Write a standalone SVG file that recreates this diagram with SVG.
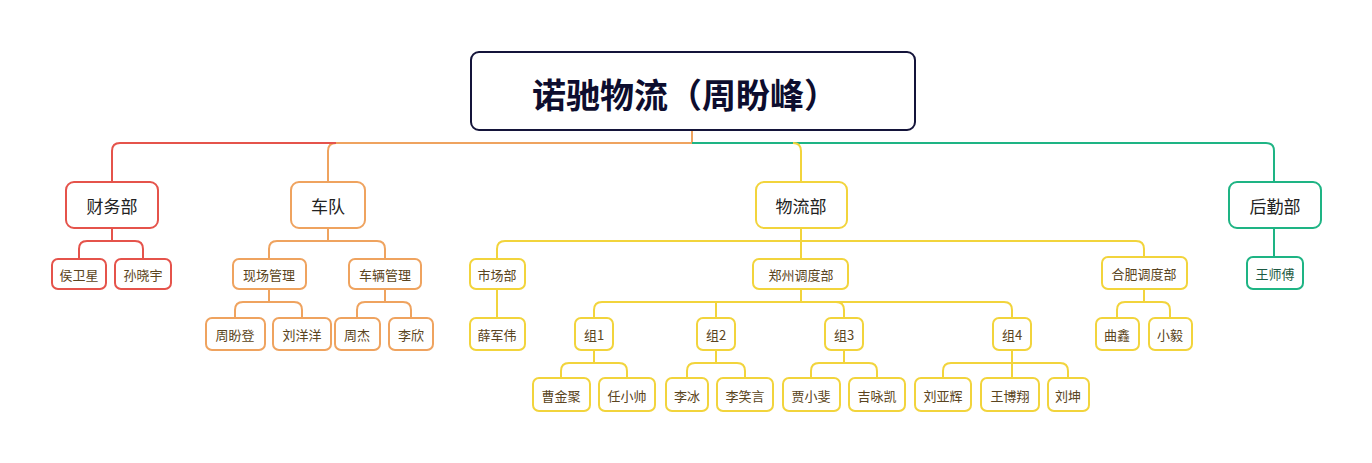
<svg xmlns="http://www.w3.org/2000/svg" width="1372" height="463" viewBox="0 0 1372 463">
<style>
text{font-family:"Noto Sans CJK SC","Noto Sans",sans-serif;text-anchor:middle;dominant-baseline:central}
rect{fill:#fff;stroke-width:2}
path{fill:none;stroke-width:2}
.r{stroke:#e5534b}.o{stroke:#efa35f}.y{stroke:#f2d43c}.g{stroke:#1eb484}
.l1{font-size:17px;fill:#222}
.l2{font-size:13px;fill:#5a4420}
.tg{fill:#1b5a43}
</style>
<rect width="1372" height="463" fill="#fff" stroke="none"/>
<g id="connectors">
<path class="o" d="M692 130V143H336Q328 143 328 151V182"/>
<path class="r" d="M336 143H120Q112 143 112 151V182"/>
<path class="g" d="M692 143H1266Q1274 143 1274 151V182M1274 228V259"/>
<path class="y" d="M793 143Q801 143 801 151V182"/>
<path class="r" d="M112 228V241M87 241H135M79 249Q79 241 87 241M135 241Q143 241 143 249V259M79 249V259"/>
<path class="o" d="M328 228V241H377Q385 241 385 249V259M328 241H277Q269 241 269 249V259"/>
<path class="o" d="M269 289V302H294Q302 302 302 310V318M269 302H243Q235 302 235 310V318"/>
<path class="o" d="M385 289V302H403Q411 302 411 310V318M385 302H365Q357 302 357 310V318"/>
<path class="y" d="M801 228V259M801 241H1136Q1144 241 1144 249V257M801 241H505Q497 241 497 249V259M497 289V318"/>
<path class="y" d="M801 289V302H1004Q1012 302 1012 310V318M801 302H602Q594 302 594 310V318M716 302V318M836 302Q844 302 844 310V318"/>
<path class="y" d="M1144 289V302H1162Q1170 302 1170 310V318M1144 302H1125Q1117 302 1117 310V318"/>
<path class="y" d="M594 350V363H619Q627 363 627 371V378M594 363H569Q561 363 561 371V378"/>
<path class="y" d="M716 350V363H737Q745 363 745 371V378M716 363H695Q687 363 687 371V378"/>
<path class="y" d="M844 350V363H869Q877 363 877 371V378M844 363H819Q811 363 811 371V378"/>
<path class="y" d="M1012 350V378M1012 363H1060Q1068 363 1068 371V378M1012 363H951Q943 363 943 371V378"/>
</g>
<g id="root"><rect x="471" y="52" width="444" height="78" rx="8" stroke="#14143a"/><text x="685" y="93" font-size="34" font-weight="bold" fill="#0d0d2e">诺驰物流（周盼峰）</text></g>
<g id="n-caiwu"><rect class="r" x="66" y="182" width="92" height="46" rx="8"/><text class="l1" x="112" y="205">财务部</text></g>
<g id="n-chedui"><rect class="o" x="291" y="182" width="74" height="46" rx="8"/><text class="l1" x="328" y="205">车队</text></g>
<g id="n-wuliu"><rect class="y" x="756" y="182" width="91" height="46" rx="8"/><text class="l1" x="801" y="205">物流部</text></g>
<g id="n-houqin"><rect class="g" x="1229" y="182" width="92" height="46" rx="8"/><text class="l1" x="1275" y="205">后勤部</text></g>
<g id="n-hwx"><rect class="r" x="52" y="259" width="54" height="30" rx="6"/><text class="l2" x="79" y="274">侯卫星</text></g>
<g id="n-sxy"><rect class="r" x="115" y="259" width="56" height="30" rx="6"/><text class="l2" x="143" y="274">孙晓宇</text></g>
<g id="n-xcgl"><rect class="o" x="233" y="259" width="73" height="30" rx="6"/><text class="l2" x="269" y="274">现场管理</text></g>
<g id="n-clgl"><rect class="o" x="349" y="259" width="72" height="30" rx="6"/><text class="l2" x="385" y="274">车辆管理</text></g>
<g id="n-zpd"><rect class="o" x="206" y="318" width="59" height="32" rx="6"/><text class="l2" x="235" y="334">周盼登</text></g>
<g id="n-lyy"><rect class="o" x="273" y="318" width="58" height="32" rx="6"/><text class="l2" x="302" y="334">刘洋洋</text></g>
<g id="n-zj"><rect class="o" x="335" y="318" width="45" height="32" rx="6"/><text class="l2" x="357" y="334">周杰</text></g>
<g id="n-lx"><rect class="o" x="389" y="318" width="44" height="32" rx="6"/><text class="l2" x="411" y="334">李欣</text></g>
<g id="n-scb"><rect class="y" x="470" y="259" width="55" height="30" rx="6"/><text class="l2" x="497" y="274">市场部</text></g>
<g id="n-zz"><rect class="y" x="753" y="259" width="95" height="30" rx="6"/><text class="l2" x="801" y="274">郑州调度部</text></g>
<g id="n-hf"><rect class="y" x="1102" y="257" width="85" height="32" rx="6"/><text class="l2" x="1144" y="273">合肥调度部</text></g>
<g id="n-wtg"><rect class="g" x="1247" y="257" width="56" height="32" rx="6"/><text class="l2 tg" x="1275" y="273">王师傅</text></g>
<g id="n-xjw"><rect class="y" x="470" y="318" width="55" height="32" rx="6"/><text class="l2" x="497" y="334">薛军伟</text></g>
<g id="n-z1"><rect class="y" x="575" y="318" width="38" height="32" rx="6"/><text class="l2" x="594" y="334">组1</text></g>
<g id="n-z2"><rect class="y" x="697" y="318" width="38" height="32" rx="6"/><text class="l2" x="716" y="334">组2</text></g>
<g id="n-z3"><rect class="y" x="825" y="318" width="38" height="32" rx="6"/><text class="l2" x="844" y="334">组3</text></g>
<g id="n-z4"><rect class="y" x="993" y="318" width="38" height="32" rx="6"/><text class="l2" x="1012" y="334">组4</text></g>
<g id="n-qx"><rect class="y" x="1096" y="318" width="43" height="32" rx="6"/><text class="l2" x="1117" y="334">曲鑫</text></g>
<g id="n-xy"><rect class="y" x="1149" y="318" width="43" height="32" rx="6"/><text class="l2" x="1170" y="334">小毅</text></g>
<g id="n-cjj"><rect class="y" x="533" y="378" width="57" height="33" rx="6"/><text class="l2" x="561" y="395">曹金聚</text></g>
<g id="n-rxs"><rect class="y" x="599" y="378" width="56" height="33" rx="6"/><text class="l2" x="627" y="395">任小帅</text></g>
<g id="n-lb"><rect class="y" x="666" y="378" width="42" height="33" rx="6"/><text class="l2" x="687" y="395">李冰</text></g>
<g id="n-lxy"><rect class="y" x="717" y="378" width="56" height="33" rx="6"/><text class="l2" x="745" y="395">李笑言</text></g>
<g id="n-jxf"><rect class="y" x="783" y="378" width="57" height="33" rx="6"/><text class="l2" x="811" y="395">贾小斐</text></g>
<g id="n-jyk"><rect class="y" x="849" y="378" width="56" height="33" rx="6"/><text class="l2" x="877" y="395">吉咏凯</text></g>
<g id="n-lyh"><rect class="y" x="915" y="378" width="56" height="33" rx="6"/><text class="l2" x="943" y="395">刘亚辉</text></g>
<g id="n-wbx"><rect class="y" x="981" y="378" width="58" height="33" rx="6"/><text class="l2" x="1010" y="395">王博翔</text></g>
<g id="n-lk"><rect class="y" x="1048" y="378" width="41" height="33" rx="6"/><text class="l2" x="1068" y="395">刘坤</text></g>
</svg>
